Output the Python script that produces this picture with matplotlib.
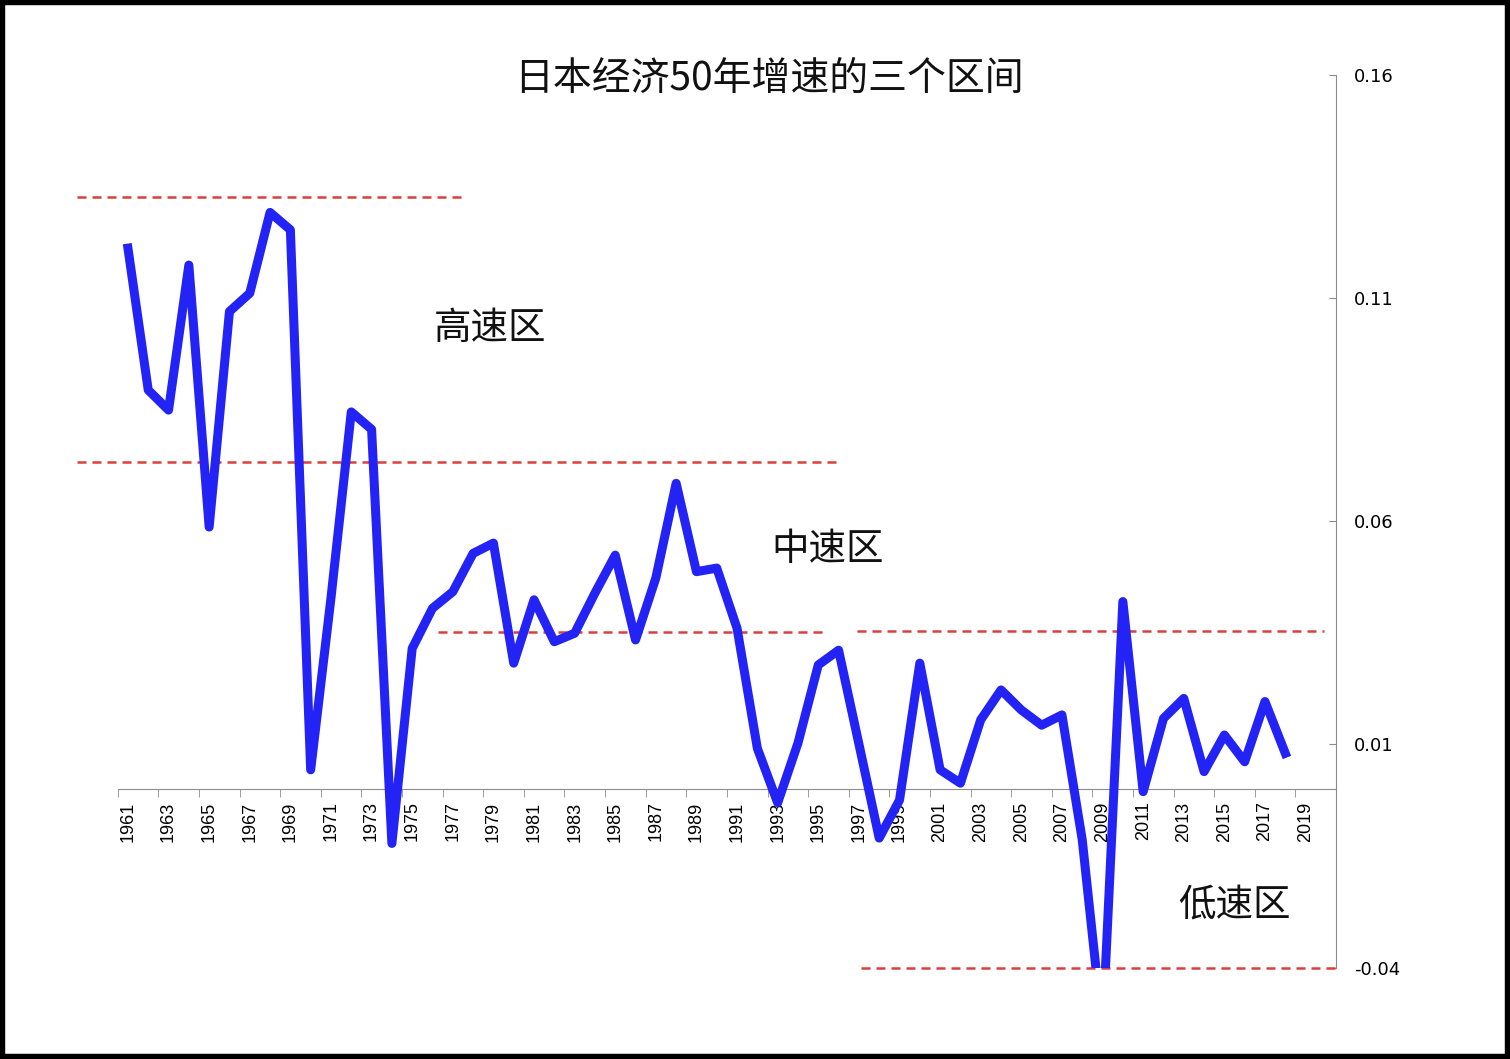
import matplotlib
matplotlib.use("Agg")
import numpy as np
from matplotlib import pyplot
from matplotlib.patches import Rectangle

# 日本GDP年增速
years = list(range(1961, 2019))
growth = [0.1212, 0.0894, 0.0849, 0.1174, 0.0587, 0.1070, 0.1111, 0.1292, 0.1253, 0.0043,
          0.0428, 0.0845, 0.0806, -0.0122, 0.0315, 0.0405, 0.0442, 0.0528, 0.0551, 0.0282,
          0.0424, 0.0330, 0.0349, 0.0439, 0.0524, 0.0334, 0.0473, 0.0685, 0.0487, 0.0495,
          0.0360, 0.0091, -0.0031, 0.0103, 0.0278, 0.0311, 0.0101, -0.0110, -0.0025, 0.0282,
          0.0043, 0.0013, 0.0155, 0.0222, 0.0177, 0.0143, 0.0166, -0.0114, -0.0540, 0.0420,
          -0.0006, 0.0158, 0.0203, 0.0039, 0.0121, 0.0061, 0.0196, 0.0080]
year_labels = [str(y) for y in range(1961, 2020, 2)]
y_ticks = [0.16, 0.11, 0.06, 0.01, -0.04]

# 区间分界线: 起点年, 终点年, 水平值
band_start = [1958.47, 1958.47, 1976.29, 1996.93, 1997.08]
band_end = [1977.61, 1996.09, 1995.5, 2019.9, 2020.55]
band_level = [0.1327, 0.0733, 0.0351, 0.0355, -0.04]

zone_names = ["高速区", "中速区", "低速区"]
zone_x = [1978.84, 1995.45, 2015.5]
zone_y = [0.1033, 0.0536, -0.026]

cjk = ["Noto Sans CJK SC", "DejaVu Sans"]
axis_gray = "#8c8c8c"

fig = pyplot.figure(figsize=(15.1, 10.59), dpi=100, facecolor="w")
ax = fig.add_axes([0.078, 0.0864, 0.8068, 0.8428])

ax.plot(years, growth, color="#2323f5", linewidth=6.5, solid_joinstyle="round", zorder=3)

for s, e, l in zip(band_start, band_end, band_level):
    ax.plot([s, e], [l, l], color="#d9403a", linewidth=1.8, linestyle=(0, (3.6, 2.4)),
            clip_on=False, zorder=2)

for name, x, y in zip(zone_names, zone_x, zone_y):
    ax.text(x, y, name, ha="center", va="center", fontsize=27, family=cjk, color="#111111")

ax.set_xlim(1960.5, 2020.5)
ax.set_ylim(-0.04, 0.16)

ax.spines["left"].set_visible(False)
ax.spines["top"].set_visible(False)
ax.spines["bottom"].set_position(("data", 0))
ax.spines["bottom"].set_color(axis_gray)
ax.spines["right"].set_color(axis_gray)

ax.yaxis.tick_right()
ax.set_yticks(y_ticks)
ax.set_yticklabels(["{:.2f}".format(v) for v in y_ticks])
ax.tick_params(axis="y", direction="in", length=5, color=axis_gray, pad=13, labelsize=13)

ax.set_xticks(range(1961, 2020, 2))
ax.set_xticklabels(year_labels, rotation=90, family="Liberation Sans")
ax.set_xticks(np.arange(1960.5, 2019, 2), minor=True)
ax.tick_params(axis="x", which="major", length=0, pad=9, labelsize=13)
ax.tick_params(axis="x", which="minor", length=6, direction="out", color=axis_gray)

fig.text(0.509, 0.9254, "日本经济50年增速的三个区间", ha="center", va="center",
         fontsize=28, family=cjk, color="#111111")

# 外框
fig.patches.append(Rectangle((0, 0), 1, 1, transform=fig.transFigure, fill=False,
                             edgecolor="black", linewidth=7.5))

fig.savefig("out.png", dpi=100)
